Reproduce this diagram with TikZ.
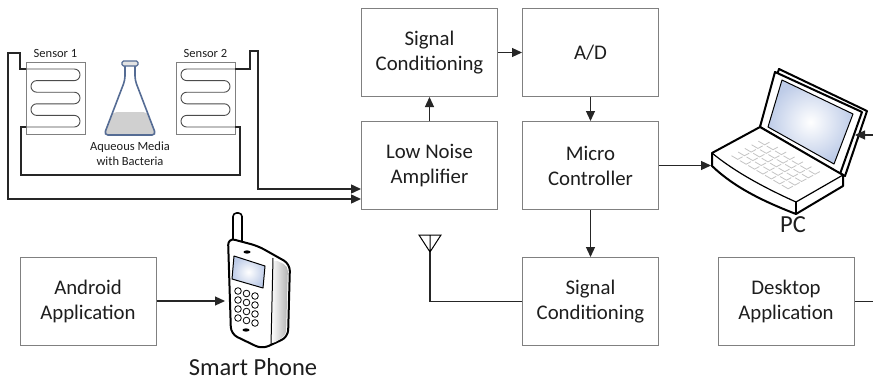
\documentclass[tikz,border=0pt]{standalone}
\usepackage{fontspec}
\setmainfont{Carlito}
\usetikzlibrary{arrows.meta,calc}

\definecolor{boxgray}{RGB}{128,128,128}
\definecolor{txt}{RGB}{30,30,30}
\definecolor{flaskblue}{RGB}{85,108,148}
\definecolor{liquid}{RGB}{208,208,208}
\definecolor{screenblue}{RGB}{190,204,232}
\definecolor{keygray}{RGB}{196,196,196}

\tikzset{
  block/.style={draw=boxgray, line width=1pt, minimum width=136pt, minimum height=88pt,
    align=center, text=txt, font=\fontsize{20.8}{25}\selectfont},
  sensorbox/.style={draw=boxgray, line width=0.8pt, minimum width=59pt, minimum height=72pt},
  wire/.style={line width=1.4pt, black!85},
  feed/.style={wire, -{Triangle[length=10pt,width=9pt]}},
  link/.style={line width=1.2pt, black!85, -{Triangle[length=10pt,width=9pt]}},
  small/.style={text=txt, font=\fontsize{12.5}{15}\selectfont, align=center},
  big/.style={text=txt, font=\fontsize{24.5}{28}\selectfont}
}

\begin{document}
\begin{tikzpicture}[x=1pt,y=-1pt]
  \fill[white] (0,0) rectangle (873,380);
  \useasboundingbox (0,0) rectangle (873,380);

  \begin{scope}[every node/.style={block}]
    \node (sca)  at (429.5,52.5)  {Signal\\Conditioning};
    \node (ad)   at (590.5,52.5)  {A/D};
    \node (lna)  at (429.5,165.5) {Low Noise\\Amplifier};
    \node (mc)   at (590.5,165.5) {Micro\\Controller};
    \node (scb)  at (590.5,301.5) {Signal\\Conditioning};
    \node (desk) at (786,301.5)   {Desktop\\Application};
    \node (andr) at (88,301)      {Android\\Application};
  \end{scope}

  % sensors in the tray
  \node[sensorbox, label={[small]above:Sensor 1}] (s1) at (55.5,98) {};
  \node[sensorbox, label={[small]above:Sensor 2}] (s2) at (205.5,98) {};
  \coordinate (s1a) at (26,69);
  \coordinate (s1b) at (26,127);
  \coordinate (s2a) at (235,69);
  \coordinate (s2b) at (235,127);
  \begin{scope}[black!70, line width=0.9pt, rounded corners=5.7pt]
    \draw (s1a) -- (80,69) -- (80,80.6) -- (31,80.6) -- (31,92.2) -- (80,92.2)
      -- (80,103.8) -- (31,103.8) -- (31,115.4) -- (80,115.4) -- (80,127) -- (s1b);
    \draw (s2a) -- (181,69) -- (181,80.6) -- (230,80.6) -- (230,92.2) -- (181,92.2)
      -- (181,103.8) -- (230,103.8) -- (230,115.4) -- (181,115.4) -- (181,127) -- (s2b);
  \end{scope}
  \draw[wire] (s1b) -- (21,127) -- (21,175) -- (240,175) -- (240,127) -- (s2b);

  % flask
  \fill[liquid, rounded corners=4pt] (112.8,112) -- (104,135) -- (156,135) -- (147.2,112) -- cycle;
  \draw[flaskblue, line width=1.6pt, rounded corners=4pt]
    (125,66) -- (125,80) -- (104,135) -- (156,135) -- (135,80) -- (135,66);
  \draw[flaskblue, line width=1.2pt, fill=liquid!60, rounded corners=1.5pt] (122,61) rectangle (138,66);
  \node[small] (aq) at (130,153.5) {Aqueous Media\\with Bacteria};

  % sensor leads into the amplifier
  \coordinate (in1) at ($(lna.west)+(0,23.5)$);
  \coordinate (in2) at ($(lna.west)+(0,33.5)$);
  \draw[feed] (s1a) -- (20,69) -- (20,53) -- (8,53) -- (8,199) -- (in2);
  \draw[feed] (s2a) -- (250,69) -- (250,51) -- (258,51) -- (258,189) -- (in1);

  % laptop
  \begin{scope}[line join=round, line width=2pt]
    \draw[fill=white] (779,69) -- (867,111) -- (845,176) -- (760,127) -- cycle;
    \draw[fill=white] (775,72) -- (862,112) -- (840,174) -- (760,127) -- cycle;
    \shade[inner color=white, outer color=screenblue, draw=black, line width=1pt]
      (782,80) -- (853,114) -- (834,164) -- (768,127) -- cycle;
    \draw[fill=white] (712,153) -- (760,127) -- (843,175) -- (843,186) -- (796,214)
      .. controls (765,202) and (735,188) .. (712,166) -- cycle;
    \draw[line width=1.2pt] (712,153) .. controls (735,172) and (765,188) .. (796,202) -- (843,175);
    \draw[line width=1.2pt] (796,202) -- (796,214);
  \end{scope}
  \begin{scope}[shift={(712,153)}, x={(84pt,-49pt)}, y={(48pt,26pt)}, keygray, line width=0.8pt]
    \foreach \i in {0,...,6}
      \foreach \j in {0,...,4}
        \draw ({0.14+0.1*\i},{0.16+0.14*\j}) -- ++(0.075,0) -- ++(0,0.1);
  \end{scope}
  \coordinate (pcL) at (711,165.5);
  \coordinate (pcR) at (855,135);
  \coordinate (edgeR) at (873,135);
  \coordinate (edgeD) at (873,301.5);
  \node[big] (pclbl) at (793,225) {PC};

  % phone
  \begin{scope}[line join=round]
    \draw[line width=1.6pt, fill=white, rounded corners=3.5pt] (233,246) -- (233,213) -- (242,213) -- (242,248);
    \draw[line width=2pt, fill=white, rounded corners=7pt]
      (228,238) -- (258,246) -- (290,264) -- (288,337) -- (262,349) -- (231,334) -- cycle;
    \shade[left color=white, right color=black!30, rounded corners=5pt]
      (273,259) -- (288,266) -- (286,335) -- (271,345) -- cycle;
    \draw[line width=1pt] (273,258) -- (271,345);
    \shade[inner color=white, outer color=screenblue, draw=black, line width=1pt]
      (234,256) -- (265,266) -- (263,288) -- (232,279) -- cycle;
    \fill (247,252) ellipse [x radius=3.5pt, y radius=1.6pt];
    \fill (246,330) ellipse [x radius=3.5pt, y radius=1.6pt];
    \foreach \i in {0,1,2}
      \foreach \j in {0,...,3}
        \draw[line width=0.8pt, fill=white] ({238+8.5*\i},{291+9*\j+2.5*\i}) circle [radius=3.3pt];
  \end{scope}
  \coordinate (phL) at (225,301);
  \node[big] (phlbl) at (253,367) {Smart Phone};

  % antenna
  \coordinate (ant) at (430,252);
  \draw[line width=1pt] (ant) -- (419,235) -- (441,235) -- cycle (430,235) -- (ant);
  \draw[line width=1.2pt, black!85] (scb) -| (ant);

  \begin{scope}[every edge/.style={draw, link}]
    \path (lna)   edge (sca);
    \path (sca)   edge (ad);
    \path (ad)    edge (mc);
    \path (mc)    edge (scb);
    \path (mc)    edge (pcL);
    \path (andr)  edge (phL);
    \path (edgeR) edge (pcR);
  \end{scope}
  \draw[line width=1.2pt, black!85] (desk) -- (edgeD);

\end{tikzpicture}
\end{document}
